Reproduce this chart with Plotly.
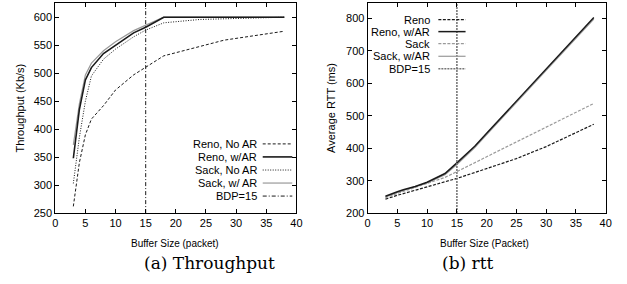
import plotly.graph_objects as go

# ---------------- data ----------------
# (a) Throughput
x_reno_noar = [3, 4, 5, 6, 8, 10, 13, 15, 18, 28, 38]
y_reno_noar = [262, 340, 390, 418, 442, 470, 497, 510, 531, 559, 575]

x_reno_ar = [3, 4, 5, 6, 8, 10, 13, 15, 18, 28, 38]
y_reno_ar = [348, 435, 488, 510, 535, 550, 572, 582, 600, 600, 600]

x_sack_noar = [3, 4, 5, 6, 8, 10, 13, 15, 18, 24, 38]
y_sack_noar = [303, 385, 450, 495, 525, 543, 565, 577, 590, 596, 600]

x_sack_ar = [3, 4, 5, 6, 8, 10, 13, 15, 18, 28, 38]
y_sack_ar = [372, 445, 497, 518, 540, 556, 576, 586, 600, 600, 600]

# (b) rtt
x_rtt = [3, 4, 5, 6, 8, 10, 13, 15, 18, 20, 25, 30, 38]
rtt_reno = [243, 250, 255, 260, 270, 282, 297, 307, 325, 337, 368, 405, 474]
rtt_reno_ar = [252, 260, 266, 272, 282, 295, 322, 355, 406, 446, 545, 644, 803]
rtt_sack = [247, 255, 261, 267, 279, 290, 310, 328, 355, 373, 419, 465, 538]
rtt_sack_ar = [250, 258, 264, 270, 281, 293, 318, 350, 402, 442, 541, 640, 798]

bdp = 15
thr_range = [250, 625]
rtt_range = [200, 847]

legend_a = ["Reno, No AR", "Reno, w/AR", "Sack, No AR", "Sack, w/ AR", "BDP=15"]
legend_b = ["Reno", "Reno, w/AR", "Sack", "Sack, w/AR", "BDP=15"]

# ---------------- styles ----------------
BLK = "#1a1a1a"
GRY = "#9a9a9a"
styles_a = [
    dict(color=BLK, width=1, dash="3px,2px"),
    dict(color=BLK, width=1.6, dash="solid"),
    dict(color=BLK, width=1, dash="1px,1.5px"),
    dict(color=GRY, width=1.2, dash="solid"),
    dict(color=BLK, width=1, dash="4px,2px,1px,2px"),
]
styles_b = [
    dict(color=BLK, width=1.2, dash="3px,1.5px"),
    dict(color=BLK, width=1.5, dash="solid"),
    dict(color=GRY, width=1.2, dash="3px,1.5px"),
    dict(color=GRY, width=1.2, dash="solid"),
    dict(color="#777777", width=1.6, dash="2px,1px"),
]

FONT = "Liberation Sans"
W, H = 627, 284


def px(x):
    return x / W


def py(y):
    return 1 - y / H


fig = go.Figure()

# (a) traces (Sack w/AR underneath)
series_a = [
    (x_sack_ar, y_sack_ar, 3),
    (x_reno_noar, y_reno_noar, 0),
    (x_sack_noar, y_sack_noar, 2),
    (x_reno_ar, y_reno_ar, 1),
]
for xs, ys, i in series_a:
    fig.add_trace(go.Scatter(x=xs, y=ys, mode="lines", line=styles_a[i],
                             name=legend_a[i], showlegend=False,
                             xaxis="x", yaxis="y"))
fig.add_trace(go.Scatter(x=[bdp, bdp], y=thr_range, mode="lines", line=styles_a[4],
                         showlegend=False, xaxis="x", yaxis="y"))

# (b) traces
series_b = [
    (rtt_sack_ar, 3),
    (rtt_reno, 0),
    (rtt_sack, 2),
    (rtt_reno_ar, 1),
]
for ys, i in series_b:
    fig.add_trace(go.Scatter(x=x_rtt, y=ys, mode="lines", line=styles_b[i],
                             name=legend_b[i], showlegend=False,
                             xaxis="x2", yaxis="y2"))
fig.add_trace(go.Scatter(x=[bdp, bdp], y=rtt_range, mode="lines", line=styles_b[4],
                         showlegend=False, xaxis="x2", yaxis="y2"))

ax_common = dict(ticks="inside", ticklen=4, tickcolor="black", showline=True,
                 linecolor="black", linewidth=1, mirror="ticks", showgrid=False,
                 zeroline=False, tickfont=dict(family=FONT, size=11, color="black"))

ydom = [py(217.7), py(3.3)]
fig.update_layout(
    width=W, height=H, margin=dict(l=0, r=0, t=0, b=0),
    plot_bgcolor="white", paper_bgcolor="white",
    xaxis=dict(domain=[px(53), px(297.7)], range=[0, 40], dtick=5, anchor="y", **ax_common),
    yaxis=dict(domain=ydom, range=thr_range, dtick=50, anchor="x", **ax_common),
    xaxis2=dict(domain=[px(369.9), px(611.5)], range=[0, 40], dtick=5, anchor="y2", **ax_common),
    yaxis2=dict(domain=ydom, range=rtt_range, dtick=100, anchor="x2", **ax_common),
)


def text(x, y, s, size, family=FONT, xanchor="center", angle=0):
    return dict(x=px(x), y=py(y), text=s, showarrow=False, textangle=angle,
                xanchor=xanchor, yanchor="middle", xref="paper", yref="paper",
                font=dict(family=family, size=size, color="black"))


ann = []
shapes = []
# axis titles
ann.append(text(175, 249, "Buffer Size (packet)", 10))
ann.append(text(489, 249, "Buffer Size (Packet)", 10))
ann.append(text(17, 110, "Throughput (Kb/s)", 11, angle=-90))
ann.append(text(332, 110, "Average RTT (ms)", 11, angle=-90))
# captions
ann.append(text(209, 269, "(a) Throughput", 17, family="DejaVu Serif"))
ann.append(text(472, 269, "(b) rtt", 17, family="DejaVu Serif"))

# manual gnuplot-style legends
leg_a_y = [147, 160.3, 173.7, 187, 200.3]
for i, name in enumerate(legend_a):
    ann.append(text(260, leg_a_y[i], name, 11, xanchor="right"))
    shapes.append(dict(type="line", xref="paper", yref="paper", x0=px(263.5), x1=px(293.5),
                       y0=py(leg_a_y[i]), y1=py(leg_a_y[i]), line=styles_a[i]))
leg_b_y = [20, 32.3, 44.5, 57.5, 70.3]
for i, name in enumerate(legend_b):
    ann.append(text(435, leg_b_y[i], name, 11, xanchor="right"))
    shapes.append(dict(type="line", xref="paper", yref="paper", x0=px(441.7), x1=px(469.3),
                       y0=py(leg_b_y[i]), y1=py(leg_b_y[i]), line=styles_b[i]))

fig.update_layout(annotations=ann, shapes=shapes)
fig.write_html(
    "out.html",
    config={"displayModeBar": False},
    post_script=(
        "document.documentElement.style.margin='0';"
        "document.body.style.margin='0';"
        "document.body.style.overflow='hidden';"
    ),
)
